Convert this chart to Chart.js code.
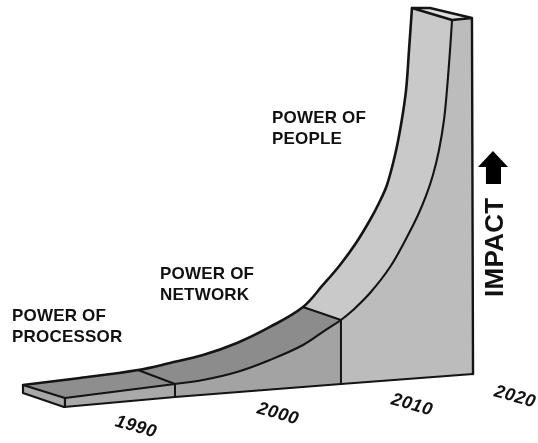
<!DOCTYPE html>
<html lang="en">
<head>
    <meta charset="UTF-8">
    <title>Impact over time</title>
    <script src="https://cdn.jsdelivr.net/npm/chart.js"></script>
    <style>
        body { margin: 0; background: #fff; }
        canvas { display: block; }
    </style>
</head>
<body>
    <canvas id="impactChart" width="538" height="443"></canvas>

    <script>
        // Rear edge of the ribbon
        const backYears = [1981.71, 1985.95, 1990.26, 1992.64, 1995.09, 1997.62, 2000.07, 2002.53, 2004.01, 2005.28, 2006.47, 2007.51, 2008.18, 2008.77, 2009.37, 2009.81, 2010.19, 2010.41, 2010.63];
        const backImpact = [13.09, 14.67, 16.48, 18.06, 19.86, 22.57, 26.19, 30.70, 35.67, 40.18, 45.15, 50.34, 54.18, 58.24, 65.01, 71.78, 79.68, 88.71, 98.19];

        // Front edge of the ribbon
        const frontYears = [1984.83, 1988.92, 1993.01, 1995.09, 1997.62, 2000.07, 2002.53, 2004.31, 2005.35, 2006.25, 2007.51, 2009.00, 2010.26, 2011.08, 2011.67, 2012.19, 2012.64, 2013.01, 2013.23, 2013.46, 2013.61];
        const frontImpact = [10.16, 11.74, 13.32, 14.22, 16.03, 18.74, 22.12, 25.73, 27.77, 30.02, 33.86, 39.73, 46.50, 51.47, 55.76, 60.50, 66.14, 72.91, 79.68, 88.71, 95.49];

        // Ground line under the front wall
        const baseYears = [1984.76, 1993.01, 2005.35, 2015.17];
        const baseImpact = [8.13, 10.38, 13.32, 15.58];

        // Far wall corner, near end of the ribbon, top cap
        const wallTop = [2015.09, 95.94];
        const endLow = [1981.71, 11.29];
        const capBack = [2011.97, 98.19];

        // Arrow next to the axis title
        const arrowYears = [2016.13, 2016.13, 2015.54, 2016.65, 2017.77, 2017.25, 2017.25];
        const arrowImpact = [58.47, 62.30, 62.30, 65.91, 62.30, 62.30, 58.47];

        // Year ticks run along the slanted floor
        const yearLabels = ['1990', '2000', '2010', '2020'];
        const yearLabelX = [1990.11, 2000.67, 2010.63, 2018.29];
        const yearLabelY = [3.61, 6.55, 8.58, 10.38];

        const eraLines = ['POWER OF', 'PROCESSOR', 'POWER OF', 'NETWORK', 'POWER OF', 'PEOPLE'];
        const eraLabelX = [1980.89, 1980.89, 1991.9, 1991.9, 2000.22, 2000.22];
        const eraLabelY = [27.54, 22.8, 36.95, 32.28, 72.3, 67.43];

        const axisTitle = 'IMPACT';
        const axisTitleAt = [2017.4, 32.96];

        const pts = (xs, ys) => xs.map((x, i) => ({x, y: ys[i]}));
        const back = pts(backYears, backImpact);
        const front = pts(frontYears, frontImpact);
        const base = pts(baseYears, baseImpact);
        const corner = ([x, y]) => ({x, y});

        // Index of the era dividers on each edge
        const BACK_A = 2, BACK_B = 7, FRONT_A = 2, FRONT_B = 8;

        function face(data, color) {
            return {data, backgroundColor: color, borderWidth: 0, fill: 'shape', order: 3, pointRadius: 0};
        }
        function stroke(data, width, tension = 0) {
            return {data, borderColor: '#141414', borderWidth: width, tension, fill: false, order: 1, pointRadius: 0,
                    borderCapStyle: 'round', borderJoinStyle: 'round'};
        }

        const datasets = [
            // top surface
            face([...back.slice(0, BACK_A + 1), ...front.slice(0, FRONT_A + 1).reverse()], '#8e8e8e'),
            face([...back.slice(BACK_A, BACK_B + 1), ...front.slice(FRONT_A, FRONT_B + 1).reverse()], '#8c8c8c'),
            face([...back.slice(BACK_B), ...front.slice(FRONT_B).reverse()], '#c9c9c9'),
            // front wall
            face([...front.slice(0, FRONT_A + 1), base[1], base[0]], '#a9a9a9'),
            face([...front.slice(FRONT_A, FRONT_B + 1), base[2], base[1]], '#a3a3a3'),
            face([...front.slice(FRONT_B), corner(wallTop), base[3], base[2]], '#bcbcbc'),
            // near end and top cap
            face([back[0], front[0], base[0], corner(endLow)], '#a8a8a8'),
            face([back[back.length - 1], corner(capBack), corner(wallTop), front[front.length - 1]], '#dedede'),
            // outlines
            stroke(back, 2.6, 0.35),
            stroke(front, 2.1, 0.35),
            stroke(base, 2.2),
            stroke([back[0], corner(endLow), base[0], front[0], back[0]], 2.2),
            stroke([back[BACK_A], front[FRONT_A], base[1]], 2),
            stroke([back[BACK_B], front[FRONT_B], base[2]], 2),
            stroke([base[3], corner(wallTop), corner(capBack), back[back.length - 1], front[front.length - 1], corner(wallTop)], 2.4),
            // arrow
            {data: pts(arrowYears, arrowImpact), backgroundColor: '#000', borderWidth: 0, fill: 'shape', order: 1, pointRadius: 0}
        ];

        const labelPlugin = {
            id: 'ribbonLabels',
            afterDatasetsDraw(chart) {
                const {ctx, scales: {x, y}} = chart;
                const put = (text, vx, vy, font, angle, align, spacing, baseline) => {
                    ctx.save();
                    ctx.translate(x.getPixelForValue(vx), y.getPixelForValue(vy));
                    ctx.rotate(angle);
                    ctx.font = font;
                    ctx.letterSpacing = spacing;
                    ctx.textAlign = align;
                    ctx.textBaseline = baseline;
                    ctx.fillStyle = '#111';
                    ctx.fillText(text, 0, 0);
                    ctx.restore();
                };
                eraLines.forEach((t, i) => put(t, eraLabelX[i], eraLabelY[i], 'bold 17px "Liberation Sans"', 0, 'left', '0.2px', 'alphabetic'));
                yearLabels.forEach((t, i) => put(t, yearLabelX[i], yearLabelY[i], 'italic bold 18px "Liberation Sans"', 16 * Math.PI / 180, 'center', '0.6px', 'middle'));
                put(axisTitle, axisTitleAt[0], axisTitleAt[1], 'bold 26px "Liberation Sans"', -Math.PI / 2, 'left', '0.3px', 'alphabetic');
            }
        };

        new Chart(document.getElementById('impactChart'), {
            type: 'line',
            data: {datasets},
            plugins: [labelPlugin],
            options: {
                responsive: false,
                animation: false,
                layout: {padding: 0},
                plugins: {legend: {display: false}, tooltip: {enabled: false}},
                scales: {
                    x: {type: 'linear', display: false, min: 1980, max: 2020},
                    y: {type: 'linear', display: false, min: 0, max: 100}
                }
            }
        });
    </script>
</body>
</html>
